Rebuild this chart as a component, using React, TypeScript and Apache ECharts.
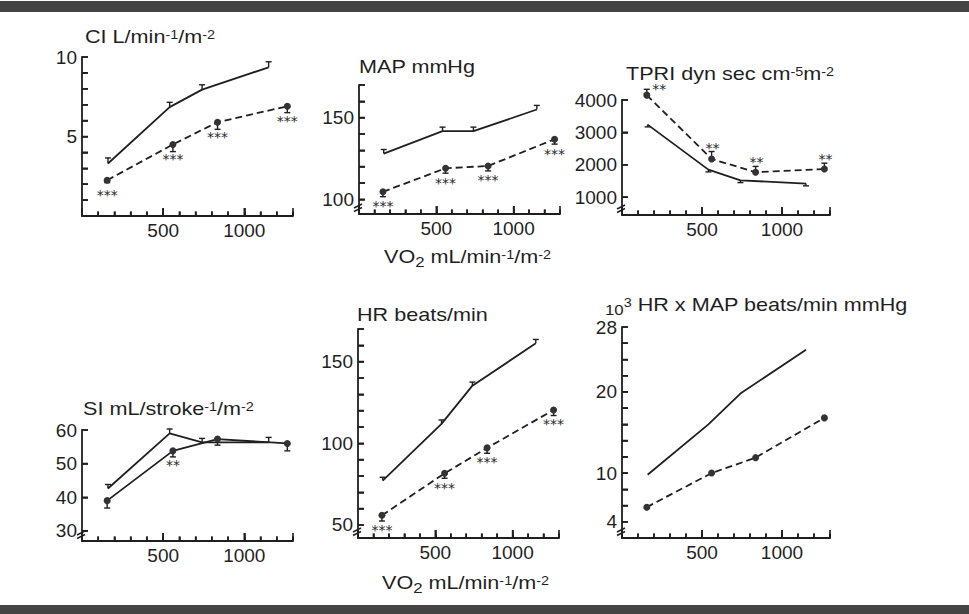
import React, { useEffect, useRef } from "react";
import * as echarts from "echarts";

const FONT = "'Liberation Sans', Arial, Helvetica, sans-serif";
const STAR_FONT = "'DejaVu Sans', sans-serif";
const INK = "#1f1f1f";
const DOT = "#333333";

// VO2 (mL/min/m2) of the four exercise stages
const controlVO2 = [160, 540, 740, 1150];
const patientVO2 = [155, 560, 835, 1265];
const vo2TickValues = [100, 200, 300, 400, 500, 600, 700, 800, 900, 1000, 1100, 1200, 1300];
const vo2LabelValues = [500, 1000];

// CI
const ciControl = [3.3, 6.85, 7.95, 9.35];
const ciControlErr = [0.35, 0.3, 0.3, 0.35];
const ciPatient = [2.25, 4.5, 5.9, 6.9];
const ciPatientErr = [-0.15, -0.45, -0.45, -0.4];
const ciStars = ["***", "***", "***", "***"];
const ciTicks = [1, 2, 3, 4, 5, 6, 7, 8, 9, 10];
const ciLabels = [5, 10];

// MAP
const mapControl = [128, 141.7, 141.7, 155];
const mapControlErr = [2.5, 2.5, 2.5, 2.5];
const mapPatient = [104.6, 119, 120.4, 136.8];
const mapPatientErr = [-3, -3, -3, -3];
const mapStars = ["***", "***", "***", "***"];
const mapTicks = [100, 110, 120, 130, 140, 150, 160, 170];
const mapLabels = [100, 150];

// TPRI
const tpriControl = [3240, 1850, 1520, 1420];
const tpriControlErr = [-70, -70, -70, -70];
const tpriPatient = [4150, 2180, 1770, 1870];
const tpriPatientErr = [180, 230, 180, 180];
const tpriStars = ["**", "**", "**", "**"];
const tpriTicks = [1000, 2000, 3000, 4000];
const tpriLabels = [1000, 2000, 3000, 4000];

// SI
const siControl = [42.6, 59, 56.3, 56.3];
const siControlErr = [1.2, 1.3, 1.2, 1.5];
const siPatient = [39, 53.8, 57.3, 56];
const siPatientErr = [-2.2, -1.8, -1.8, -2.2];
const siStars = ["", "**", "", ""];
const siTicks = [30, 40, 50, 60];
const siLabels = [30, 40, 50, 60];

// HR
const hrControl = [77.2, 111.9, 135.3, 161.2];
const hrControlErr = [2, 2.4, 2.2, 2.4];
const hrPatient = [55.9, 81.6, 97.2, 120.4];
const hrPatientErr = [-3.5, -3, -3.3, -3.4];
const hrStars = ["***", "***", "***", "***"];
const hrTicks = [50, 60, 70, 80, 90, 100, 110, 120, 130, 140, 150, 160, 170];
const hrLabels = [50, 100, 150];

// HR x MAP (10^3 beats/min mmHg)
const rppControl = [9.8, 16.0, 19.8, 25.2];
const rppPatient = [5.8, 10.0, 11.9, 16.8];
const rppTicks = [4, 6, 8, 10, 12, 14, 16, 18, 20, 22, 24, 26, 28];
const rppLabels = [4, 10, 20, 28];

type Panel = {
  box: number[];
  yMin: number;
  yMax: number;
  ticks: number[];
  labels: number[];
  ctrl: number[];
  ctrlErr?: number[];
  pt: number[];
  ptErr?: number[];
  stars?: string[];
  starsAbove?: boolean;
  dashed: boolean;
  brk: boolean;
};

const panels: Panel[] = [
  { box: [82, 57, 211, 159], yMin: 0, yMax: 10, ticks: ciTicks, labels: ciLabels, ctrl: ciControl, ctrlErr: ciControlErr, pt: ciPatient, ptErr: ciPatientErr, stars: ciStars, dashed: true, brk: false },
  { box: [359, 85, 201, 129], yMin: 91, yMax: 170, ticks: mapTicks, labels: mapLabels, ctrl: mapControl, ctrlErr: mapControlErr, pt: mapPatient, ptErr: mapPatientErr, stars: mapStars, dashed: true, brk: true },
  { box: [622, 100, 208, 115], yMin: 450, yMax: 4000, ticks: tpriTicks, labels: tpriLabels, ctrl: tpriControl, ctrlErr: tpriControlErr, pt: tpriPatient, ptErr: tpriPatientErr, stars: tpriStars, starsAbove: true, dashed: true, brk: true },
  { box: [82, 430, 211, 111], yMin: 27, yMax: 60, ticks: siTicks, labels: siLabels, ctrl: siControl, ctrlErr: siControlErr, pt: siPatient, ptErr: siPatientErr, stars: siStars, dashed: false, brk: true },
  { box: [358, 329, 201, 209], yMin: 42, yMax: 170, ticks: hrTicks, labels: hrLabels, ctrl: hrControl, ctrlErr: hrControlErr, pt: hrPatient, ptErr: hrPatientErr, stars: hrStars, dashed: true, brk: true },
  { box: [622, 327, 208, 211], yMin: 2, yMax: 28, ticks: rppTicks, labels: rppLabels, ctrl: rppControl, pt: rppPatient, dashed: true, brk: true },
];

const rich: any = {
  b: { fontSize: 18, lineHeight: 24, fontFamily: FONT, fill: INK, color: INK },
  s: { fontSize: 12, lineHeight: 12, verticalAlign: "top", padding: [4, 0, 0, 0], fontFamily: FONT, fill: INK, color: INK },
  u: { fontSize: 14, lineHeight: 14, verticalAlign: "top", padding: [10, 0, 0, 0], fontFamily: FONT, fill: INK, color: INK },
  t: { fontSize: 14, lineHeight: 14, verticalAlign: "top", padding: [10, 0, 0, 0], fontFamily: FONT, fill: INK, color: INK },
};

const titleEl = (x: number, y: number, text: string) => ({
  type: "text",
  x,
  y,
  scaleX: 1.2,
  silent: true,
  z: 10,
  style: { text, rich, fill: INK, fontFamily: FONT, fontSize: 18, verticalAlign: "top", align: "left" },
});

const seg = (x1: number, y1: number, x2: number, y2: number, w: number = 1.4) => ({
  type: "line",
  shape: { x1, y1, x2, y2 },
  style: { stroke: INK, lineWidth: w, fill: "none" },
});

// axis indices: 3 x axes and 2 y axes per panel (main + tick overlays)
const xi = (i: number) => 3 * i;
const yi = (i: number) => 2 * i;

const errorBars = (xs: number[], ys: number[], errs: number[], i: number) => ({
  type: "custom",
  xAxisIndex: xi(i),
  yAxisIndex: yi(i),
  silent: true,
  clip: false,
  z: 2,
  encode: { x: 0, y: 1 },
  data: xs.map((x, j) => [x, ys[j], errs[j]]),
  renderItem: (_params: any, api: any) => {
    const x = api.value(0);
    const y = api.value(1);
    const e = api.value(2);
    const a = api.coord([x, y]);
    const b = api.coord([x, y + e]);
    return {
      type: "group",
      children: [seg(a[0], a[1], b[0], b[1]), seg(b[0] - 3, b[1], b[0] + 3, b[1])],
    };
  },
});

const breakMark = (p: Panel, i: number) => ({
  type: "custom",
  xAxisIndex: xi(i),
  yAxisIndex: yi(i),
  silent: true,
  clip: false,
  z: 6,
  encode: { x: 0, y: 1 },
  data: [[0, p.yMin]],
  renderItem: (_params: any, api: any) => {
    const c = api.coord([api.value(0), api.value(1)]);
    const ax = c[0];
    const by = c[1];
    return {
      type: "group",
      children: [seg(ax - 5, by - 2.5, ax + 3, by - 6.5), seg(ax - 5, by - 6, ax + 3, by - 10)],
    };
  },
});

// inward tick marks as short line segments in data space (gaps between them)
const tickLines = (p: Panel, i: number) => {
  const perPxY = (p.yMax - p.yMin) / p.box[3];
  const perPxX = 1300 / p.box[2];
  const data: any[] = [];
  vo2TickValues.forEach((v) => {
    const len = (vo2LabelValues.includes(v) ? 8 : 4.5) * perPxY;
    data.push([v, p.yMin], [v, p.yMin + len], [v, "-"]);
  });
  p.ticks.forEach((v) => {
    data.push([0, v], [6 * perPxX, v], ["-", v]);
  });
  return {
    type: "line",
    xAxisIndex: xi(i),
    yAxisIndex: yi(i),
    silent: true,
    clip: false,
    z: 8,
    symbol: "none",
    connectNulls: false,
    lineStyle: { color: INK, width: 1.6, cap: "butt" },
    data,
  };
};

function buildOption() {
  const lineSt = { color: INK, width: 1.8 };
  const tickSt = { color: INK, width: 1.6 };
  const grid: any[] = [];
  const xAxis: any[] = [];
  const yAxis: any[] = [];
  const series: any[] = [];

  panels.forEach((p, i) => {
    grid.push({ left: p.box[0], top: p.box[1], width: p.box[2], height: p.box[3], containLabel: false, outerBoundsMode: "none" });
    // main x axis: line and labels
    xAxis.push({
      gridIndex: i, type: "value", min: 0, max: 1300, interval: 100, position: "bottom", offset: 0,
      axisLine: { show: true, onZero: false, lineStyle: { ...lineSt } },
      axisTick: { show: false },
      axisLabel: {
        formatter: (v: number) => (vo2LabelValues.includes(v) ? String(v) : ""),
        color: INK, fontSize: 19, fontFamily: FONT, margin: 5,
      },
      splitLine: { show: false },
    });
    // minor tick overlay
    xAxis.push({
      gridIndex: i, type: "value", min: 0, max: 1300, interval: 100, position: "bottom", offset: 0,
      axisLine: { show: false, onZero: false },
      axisTick: { show: true, inside: true, length: 4.5, lineStyle: { ...tickSt } },
      axisLabel: { show: false },
      splitLine: { show: false },
    });
    // major tick overlay
    xAxis.push({
      gridIndex: i, type: "value", min: 0, max: 1300, interval: 500, position: "bottom", offset: 0,
      axisLine: { show: false, onZero: false },
      axisTick: { show: true, inside: true, length: 8, lineStyle: { ...tickSt } },
      axisLabel: { show: false },
      splitLine: { show: false },
    });
    yAxis.push({
      gridIndex: i, type: "value", min: p.yMin, max: p.yMax, position: "left", offset: 0,
      axisLine: { show: true, onZero: false, lineStyle: { ...lineSt } },
      axisTick: { show: false },
      axisLabel: {
        show: true, customValues: p.labels, formatter: (v: number) => String(v),
        color: INK, fontSize: 19, fontFamily: FONT, margin: 5,
      },
      splitLine: { show: false },
    });
    yAxis.push({
      gridIndex: i, type: "value", min: p.yMin, max: p.yMax, position: "left", offset: 0,
      axisLine: { show: false, onZero: false },
      axisTick: { show: true, inside: true, length: 6, customValues: p.ticks, lineStyle: { ...tickSt } },
      axisLabel: { show: false },
      splitLine: { show: false },
    });

    series.push(tickLines(p, i));

    series.push({
      type: "line", xAxisIndex: xi(i), yAxisIndex: yi(i), silent: true, clip: false, z: 3,
      data: controlVO2.map((x, j) => [x, p.ctrl[j]]),
      symbol: "none",
      lineStyle: { ...lineSt },
    });
    if (p.ctrlErr) series.push(errorBars(controlVO2, p.ctrl, p.ctrlErr, i));

    const stars = p.stars;
    const ptData = patientVO2.map((x, j) => {
      const item: any = { value: [x, p.pt[j]] };
      if (stars && p.starsAbove) {
        item.label = j === 0
          ? { position: "right", distance: 2, offset: [0, -6] }
          : { position: "top", distance: 0, offset: [1, 0] };
      }
      return item;
    });
    series.push({
      type: "line", xAxisIndex: xi(i), yAxisIndex: yi(i), silent: true, clip: false, z: 4,
      data: ptData,
      symbol: "circle",
      symbolSize: 7,
      showSymbol: true,
      itemStyle: { color: DOT },
      lineStyle: { color: INK, width: 1.8, type: p.dashed ? [7, 4] : "solid" },
      label: stars
        ? {
            show: true,
            position: "bottom",
            distance: 4,
            formatter: (q: any) => stars[q.dataIndex],
            fontFamily: STAR_FONT,
            fontSize: 14,
            color: "#2a2a2a",
          }
        : { show: false },
    });
    if (p.ptErr) series.push(errorBars(patientVO2, p.pt, p.ptErr, i));
    if (p.brk) series.push(breakMark(p, i));
  });

  const graphic: any[] = [
    { type: "rect", silent: true, shape: { x: 0, y: 1, width: 969, height: 11 }, style: { fill: "#444444" } },
    { type: "rect", silent: true, shape: { x: 0, y: 605, width: 969, height: 9 }, style: { fill: "#444444" } },
    titleEl(85, 25, "{b|CI L/min}{s|-1}{b|/m}{s|-2}"),
    titleEl(359, 55, "{b|MAP mmHg}"),
    titleEl(626, 62, "{b|TPRI dyn sec cm}{s|-5}{b|m}{s|-2}"),
    titleEl(83, 397, "{b|SI mL/stroke}{s|-1}{b|/m}{s|-2}"),
    titleEl(357, 303, "{b|HR beats/min}"),
    titleEl(605, 293, "{t|10}{s|3}{b| HR x MAP beats/min mmHg}"),
    titleEl(384, 245, "{b|VO}{u|2}{b| mL/min}{s|-1}{b|/m}{s|-2}"),
    titleEl(382, 571, "{b|VO}{u|2}{b| mL/min}{s|-1}{b|/m}{s|-2}"),
  ];

  return {
    animation: false,
    backgroundColor: "#ffffff",
    textStyle: { fontFamily: FONT },
    grid,
    xAxis,
    yAxis,
    series,
    graphic,
  };
}

export default function App() {
  const ref = useRef<HTMLDivElement>(null);
  useEffect(() => {
    if (!ref.current) return;
    const chart = echarts.init(ref.current, undefined, { renderer: "svg" });
    chart.setOption(buildOption() as any);
    return () => chart.dispose();
  }, []);
  return (
    <div
      ref={ref}
      style={{ position: "fixed", left: 0, top: 0, width: 969, height: 614, background: "#fff" }}
    />
  );
}
